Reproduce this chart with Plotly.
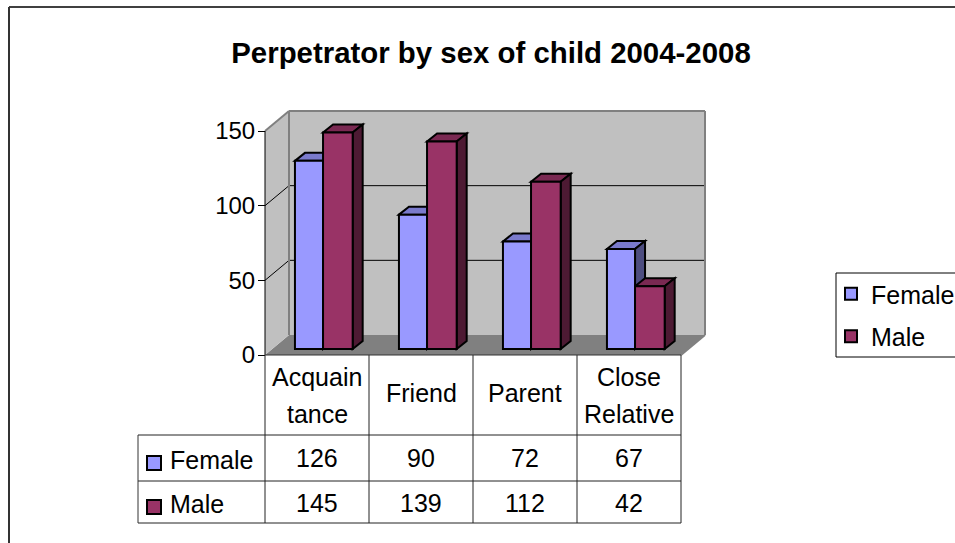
import plotly.graph_objects as go

# ---- data ----
categories = ["Acquain<br>tance", "Friend", "Parent", "Close<br>Relative"]
female = [126, 90, 72, 67]
male = [145, 139, 112, 42]
y_ticks = [0, 50, 100, 150]
title = "Perpetrator by sex of child 2004-2008"

# ---- layout constants (pixels) ----
W, H = 955, 543
X0, CAT_W = 265, 104       # axis origin and category width
Y0, UNIT = 355, 1.4933     # y of zero, px per unit
DEPTH_X, DEPTH_Y = 24, 20  # wall depth
BAR_DX, BAR_DY = 10, 8     # bar depth
BASE = 4                   # bars sit a few units in front of the floor
ROWS = [355, 435, 481, 523]
TABLE_L = 138
WRAP = 18.5                # half the distance between wrapped label lines
FONT = "Liberation Sans, Arial, sans-serif"
FS = 25
FEM = ("#9999FF", "#7A7ACC", "#4D4D80")
MAL = ("#993366", "#7A2952", "#4D1A33")

dx = lambda px: (px - X0) / CAT_W
dy = lambda py: (Y0 - py) / UNIT
ddx, ddy = DEPTH_X / CAT_W, DEPTH_Y / UNIT
bx, by = BAR_DX / CAT_W, BAR_DY / UNIT
n = len(categories)
ymax = max(y_ticks)

shapes = []
def poly(pts, fill, line="rgba(0,0,0,0)", w=0):
    path = "M" + "L".join(f"{a:.4f},{b:.4f}" for a, b in pts) + "Z"
    shapes.append(dict(type="path", path=path, xref="x", yref="y", fillcolor=fill,
                       line=dict(color=line, width=w), layer="below"))
def seg(a, b, c, d, color="#000000", w=1):
    shapes.append(dict(type="line", x0=a, y0=b, x1=c, y1=d, xref="x", yref="y",
                       line=dict(color=color, width=w), layer="below"))

# walls and floor
poly([(0, 0), (ddx, ddy), (n + ddx, ddy), (n, 0)], "#808080")
poly([(0, 0), (0, ymax), (ddx, ymax + ddy), (ddx, ddy)], "#C0C0C0")
poly([(ddx, ddy), (ddx, ymax + ddy), (n + ddx, ymax + ddy), (n + ddx, ddy)], "#C0C0C0")
for t in y_ticks[1:-1]:
    seg(0, t, ddx, t + ddy)
    seg(ddx, t + ddy, n + ddx, t + ddy)
for a, b, c, d in [(0, ymax, ddx, ymax + ddy), (ddx, ymax + ddy, n + ddx, ymax + ddy),
                   (ddx, ddy, ddx, ymax + ddy), (n + ddx, ddy, n + ddx, ymax + ddy),
                   (n, 0, n + ddx, ddy)]:
    seg(a, b, c, d, "#808080", 2)
seg(0, 0, 0, ymax, "#000000", 1)

# bars: front faces are real bar traces, depth faces follow from the same values
F_OFF, F_W = 0.288, 0.270
M_OFF, M_W = 0.558, 0.285
centers = [i + 0.5 for i in range(n)]
for i in range(n):
    for vals, off, wid, col in [(female, F_OFF, F_W, FEM), (male, M_OFF, M_W, MAL)]:
        l, r, top = i + off, i + off + wid, BASE + vals[i]
        poly([(l, top), (l + bx, top + by), (r + bx, top + by), (r, top)], col[1], "#000000", 2)
        poly([(r, BASE), (r + bx, BASE + by), (r + bx, top + by), (r, top)], col[2], "#000000", 2)

fig = go.Figure()
for name, vals, off, wid, col in [("Female", female, F_OFF, F_W, FEM), ("Male", male, M_OFF, M_W, MAL)]:
    fig.add_bar(name=name, x=centers, y=vals, base=BASE, width=wid, offset=off - 0.5,
                marker=dict(color=col[0], line=dict(color="#000000", width=2)),
                legendgroup=name, showlegend=True)

# data table
TXT = dict(color="#000000", size=FS, family=FONT)
ann = []
def label(x, y, text, anchor="center"):
    ann.append(dict(x=x / W, y=1 - y / H, xref="paper", yref="paper", text=text, showarrow=False,
                    xanchor=anchor, yanchor="middle", font=TXT, align="center", borderpad=0))
def pline(a, b, c, d, color="#000000", w=1):
    shapes.append(dict(type="line", x0=a / W, y0=1 - b / H, x1=c / W, y1=1 - d / H, xref="paper",
                       yref="paper", line=dict(color=color, width=w), layer="above"))
for i in range(n + 1):
    pline(X0 + i * CAT_W, ROWS[0], X0 + i * CAT_W, ROWS[3], "#222222")
for r in ROWS[1:]:
    pline(TABLE_L, r, X0 + n * CAT_W, r, "#222222")
pline(TABLE_L, ROWS[1], TABLE_L, ROWS[3], "#333333")
pline(X0, ROWS[0], X0 + n * CAT_W, ROWS[0], "#333333")
for i, c in enumerate(categories):
    cx = X0 + (i + 0.5) * CAT_W
    parts = c.split("<br>")
    if len(parts) == 2:
        label(cx, 395 - WRAP, parts[0])
        label(cx, 395 + WRAP, parts[1])
    else:
        label(cx, 393, c)
    label(cx, (ROWS[1] + ROWS[2]) / 2, str(female[i]))
    label(cx, (ROWS[2] + ROWS[3]) / 2 + 1, str(male[i]))
for (nm, col, r) in [("Female", FEM, 0), ("Male", MAL, 1)]:
    cy = (ROWS[1 + r] + ROWS[2 + r]) / 2
    label(169, cy + 2, nm, "left")
    shapes.append(dict(type="rect", x0=147 / W, x1=161 / W, y0=1 - (cy - 2) / H, y1=1 - (cy + 12) / H,
                       xref="paper", yref="paper", fillcolor=col[0], line=dict(color="#000000", width=2),
                       layer="above"))

# chart frame and legend box
pline(9, 7, W + 5, 7, "#000000", 1.5)
pline(9, 7, 9, H + 5, "#333333", 2)
shapes.append(dict(type="rect", x0=836 / W, x1=(W + 5) / W, y0=1 - 273 / H, y1=1 - 357 / H, xref="paper",
                   yref="paper", line=dict(color="#000000", width=1), layer="above"))

fig.update_layout(
    width=W, height=H, margin=dict(l=0, r=0, t=0, b=0, autoexpand=False),
    paper_bgcolor="#FFFFFF", plot_bgcolor="rgba(0,0,0,0)", barmode="overlay",
    font=dict(family=FONT, color="#000000", size=FS),
    title=dict(text=f"<b>{title}</b>", x=491 / W, xanchor="center", y=1 - 53 / H, yanchor="middle",
               font=dict(size=29.4, family=FONT, color="#000000")),
    xaxis=dict(domain=[0, 1], range=[dx(0), dx(W)], visible=False, fixedrange=True),
    yaxis=dict(domain=[0, 1], range=[dy(H), dy(0)], anchor="free", position=X0 / W, tickmode="array",
               tickvals=y_ticks, ticktext=[str(t) for t in y_ticks], ticks="outside", ticklen=7, tickwidth=1,
               tickcolor="#000000", showgrid=False, zeroline=False, showline=False, ticklabelstandoff=-2,
               tickfont=dict(size=24, family=FONT, color="#000000")),
    legend=dict(x=831 / W, y=1 - 271 / H, xanchor="left", yanchor="top", borderwidth=0,
                bgcolor="rgba(0,0,0,0)", font=dict(size=FS, family=FONT, color="#000000"), tracegroupgap=7,
                traceorder="grouped"),
    shapes=shapes, annotations=ann,
)
fig.write_html("out.html", config=dict(displayModeBar=False),
               post_script="document.body.style.margin='0';")
